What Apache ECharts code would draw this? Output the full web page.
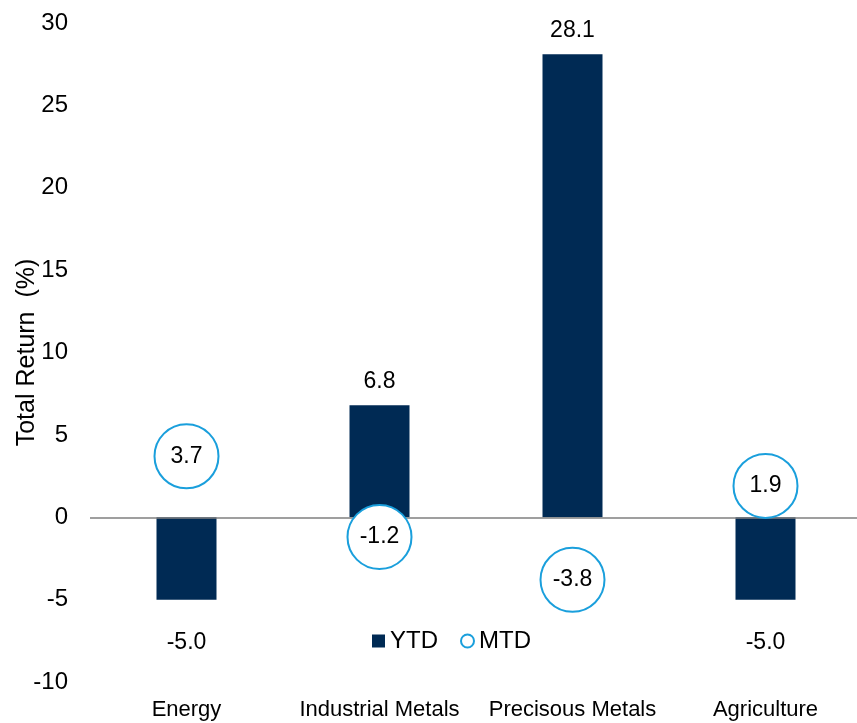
<!DOCTYPE html>
<html>
<head>
<meta charset="utf-8">
<script src="https://cdn.jsdelivr.net/npm/echarts@6/dist/echarts.min.js"></script>
<style>
  html, body { margin: 0; padding: 0; background: #ffffff; }
  #chart { width: 857px; height: 723px; }
</style>
</head>
<body>
<div id="chart"></div>
<script>
// Commodity sector total returns (%)
const categories = ['Energy', 'Industrial Metals', 'Precisous Metals', 'Agriculture'];
const ytdValues = [-5.0, 6.8, 28.1, -5.0];
const mtdValues = [3.7, -1.2, -3.8, 1.9];
const yTicks = { min: -10, max: 30, interval: 5 };

const FONT = '"Liberation Sans", Arial, sans-serif';
const NAVY = '#002a54';
const CYAN = '#1a9fdc';
const NUM_SIZE = 23;

const chart = echarts.init(document.getElementById('chart'), null, { renderer: 'canvas' });

const ytdData = ytdValues.map(v => ({
  value: v,
  label: {
    position: v < 0 ? 'bottom' : 'top',
    distance: v < 0 ? 32 : 12
  }
}));

chart.setOption({
  animation: false,
  backgroundColor: '#ffffff',
  textStyle: { fontFamily: FONT },
  grid: {
    left: 90, top: 23, width: 772, height: 659,
    containLabel: false,
    outerBoundsMode: 'none'
  },
  legend: {
    left: 367,
    top: 624,
    itemWidth: 13,
    itemHeight: 13,
    itemGap: 22,
    textStyle: { fontFamily: FONT, fontSize: 24, color: '#000' },
    data: [
      { name: 'YTD', icon: 'rect' },
      { name: 'MTD', icon: 'circle' }
    ]
  },
  xAxis: {
    type: 'category',
    data: categories,
    axisLine: { show: false, onZero: false },
    axisTick: { show: false },
    axisLabel: { fontFamily: FONT, fontSize: 22, color: '#000', margin: 17, interval: 0 }
  },
  yAxis: {
    type: 'value',
    min: yTicks.min,
    max: yTicks.max,
    interval: yTicks.interval,
    name: 'Total Return  (%)',
    nameLocation: 'middle',
    nameGap: 50,
    nameMoveOverlap: false,
    nameTextStyle: { fontFamily: FONT, fontSize: 25, color: '#000' },
    axisLine: { show: false },
    axisTick: { show: false },
    splitLine: { show: false },
    axisLabel: { fontFamily: FONT, fontSize: 24, color: '#000', margin: 22 }
  },
  series: [
    {
      name: 'YTD',
      type: 'bar',
      data: ytdData,
      barWidth: 60,
      itemStyle: { color: NAVY },
      label: {
        show: true,
        fontFamily: FONT,
        fontSize: NUM_SIZE,
        color: '#000',
        formatter: p => p.value.toFixed(1)
      },
      markLine: {
        silent: true,
        symbol: 'none',
        label: { show: false },
        lineStyle: { color: '#7f7f7f', width: 1.5, type: 'solid' },
        data: [{ yAxis: 0 }]
      },
      z: 2
    },
    {
      name: 'MTD',
      type: 'scatter',
      data: mtdValues,
      symbol: 'circle',
      symbolSize: 64,
      itemStyle: { color: '#ffffff', borderColor: CYAN, borderWidth: 2, opacity: 1 },
      label: {
        show: true,
        position: 'inside',
        fontFamily: FONT,
        fontSize: NUM_SIZE,
        color: '#000',
        formatter: p => p.value.toFixed(1)
      },
      z: 5
    }
  ]
});
</script>
</body>
</html>
